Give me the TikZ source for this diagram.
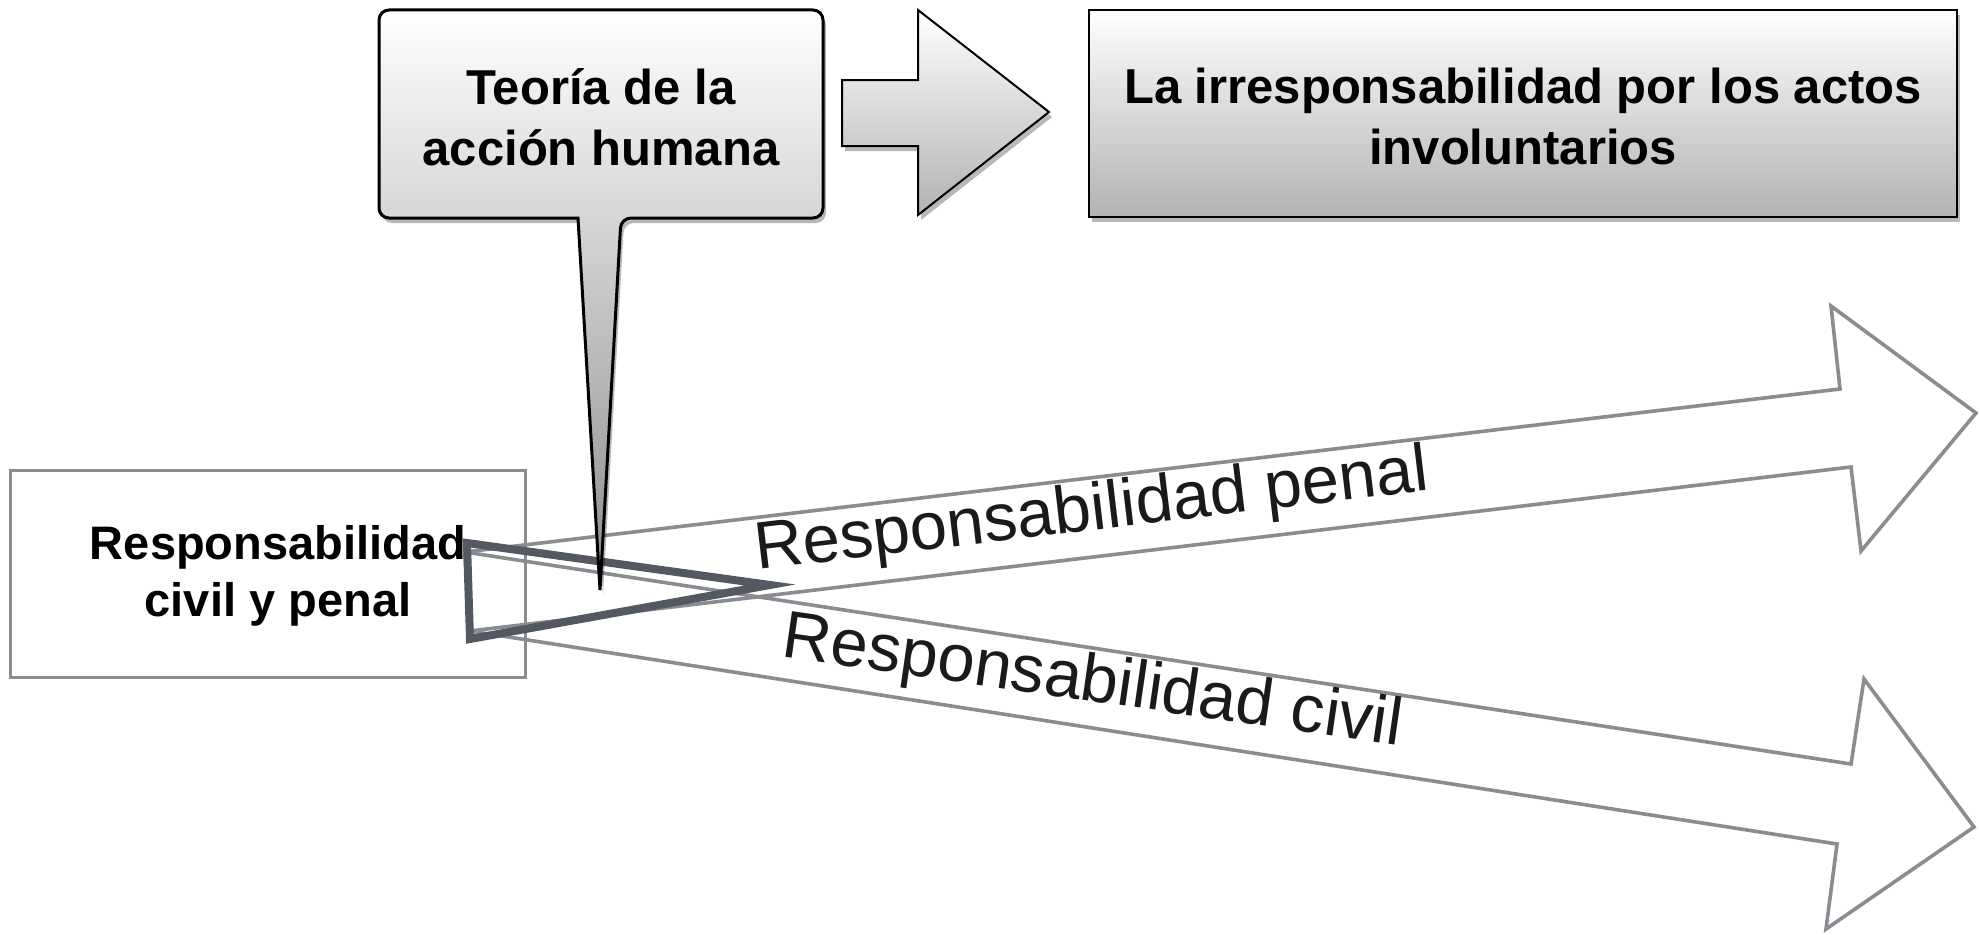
\documentclass[tikz,border=0pt]{standalone}
\usepackage{fontspec}
\setmainfont{Liberation Sans}
\definecolor{arrgray}{HTML}{8B8C91}
\definecolor{darkline}{HTML}{545860}
\definecolor{lbltext}{HTML}{1A1A1A}
\begin{document}
\begin{tikzpicture}[x=1pt,y=-1pt,
  boxtext/.style={font=\bfseries\fontsize{49}{61}\selectfont, align=center, text=black},
  lbl/.style={font=\fontsize{67}{70}\selectfont, text=lbltext, inner sep=0pt},
  arrowline/.style={draw=arrgray, line width=3.6pt, line join=miter},
  shadowfill/.style={fill=black, opacity=0.28},
  gradbox/.style={draw=black, top color=white, bottom color=black!30}]
\path[fill=white] (0,0) rectangle (1980,934);
\useasboundingbox (0,0) rectangle (1980,934);

% left box
\node[draw=arrgray, line width=3pt, fill=white, minimum width=515pt, minimum height=207pt, inner sep=0pt] (lbox) at (267.5,573.5) {};
\node[font=\bfseries\fontsize{47}{57}\selectfont, align=center] (ltext) at (278,576) {Responsabilidad\\civil y penal};

% two big outline arrows
\coordinate (rt) at (465,552);
\coordinate (rb) at (470,631);
\draw[arrowline] (rt) -- (1840,389) -- (1831,306) -- (1976,413) -- (1861,551) -- (1851,467) -- (rb) -- cycle;
\draw[arrowline] (rt) -- (1851,764) -- (1864,679) -- (1974,827) -- (1826,929) -- (1837,844) -- (rb) -- cycle;

\node[lbl, anchor=base, rotate=6.76] (penal) at (1094,530) {Responsabilidad penal};
\node[lbl, anchor=base, rotate=-8.2] (civil) at (1090,701) {Responsabilidad civil};

% dark triangle
\coordinate (t1) at (467,543);
\coordinate (t2) at (770,585);
\coordinate (t3) at (470,639);
\draw[draw=darkline, line width=8pt, line join=miter] (t1) -- (t2) -- (t3) -- cycle;

% right box
\begin{scope}[shift={(3,5)}]
\fill[shadowfill] (1089,10) rectangle (1957,217);
\end{scope}
\node[gradbox, line width=2.5pt, minimum width=868pt, minimum height=207pt, inner sep=0pt] (rbox) at (1523,113.5) {};
\node[boxtext] (rtext) at (1523,116) {La irresponsabilidad por los actos\\involuntarios};

% block arrow
\begin{scope}[shift={(3,5)}]
\fill[shadowfill] (842,80) -- (918,80) -- (918,10) -- (1049,112) -- (918,215) -- (918,146) -- (842,146) -- cycle;
\end{scope}
\draw[gradbox, line width=2pt, line join=miter] (842,80) -- (918,80) -- (918,10) -- (1049,112) -- (918,215) -- (918,146) -- (842,146) -- cycle;

% callout
\begin{scope}[shift={(3,5)}]
\fill[shadowfill, rounded corners=10pt] (379,10) -- (823,10) -- (823,218) -- (621,218) [sharp corners] -- (600,590) -- (578,218) [rounded corners=10pt] -- (379,218) -- cycle;
\end{scope}
\draw[line width=3pt, draw=black, top color=white, bottom color=black!45, rounded corners=10pt]
  (379,10) -- (823,10) -- (823,218) -- (621,218) [sharp corners] -- (600,590) -- (578,218) [rounded corners=10pt] -- (379,218) -- cycle;
\node[boxtext] (ctext) at (601,117) {Teoría de la\\acción humana};
\end{tikzpicture}
\end{document}
